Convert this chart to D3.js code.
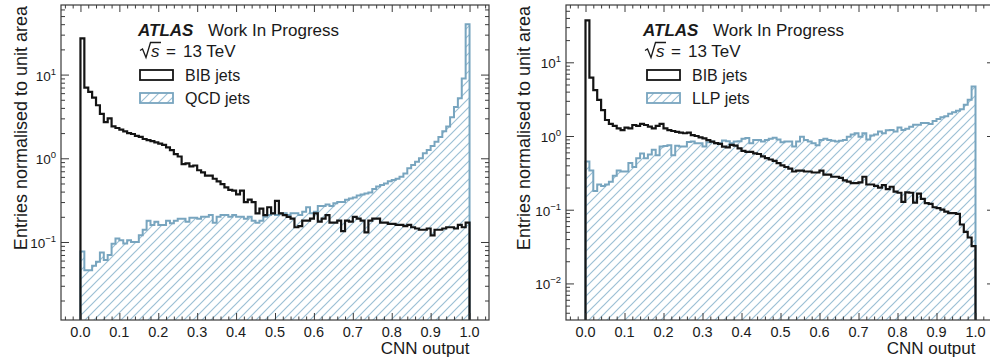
<!DOCTYPE html>
<html>
<head>
<meta charset="utf-8">
<script src="https://cdn.jsdelivr.net/npm/d3@7"></script>
<style>
  body { margin: 0; background: #fff; }
  svg { display: block; font-family: "Liberation Sans", Arial, Helvetica, sans-serif; }
</style>
</head>
<body>
<svg id="chart" width="990" height="358"></svg>
<script>
// 100 bins of width 0.01 over the CNN output
const binEdges = d3.range(0, 101).map(i => i / 100);

// left panel: BIB vs QCD
const leftBIB = [
  27, 7.0, 6.2, 5.3, 4.3, 3.4, 2.7, 3.0, 2.4, 2.3,
  2.2, 2.1, 2.0, 1.95, 1.85, 1.8, 1.7, 1.65, 1.6, 1.55,
  1.5, 1.45, 1.35, 1.25, 1.12, 1.05, 0.85, 0.87, 0.8, 0.82,
  0.72, 0.68, 0.62, 0.62, 0.57, 0.53, 0.49, 0.45, 0.42, 0.41,
  0.37, 0.41, 0.3, 0.32, 0.3, 0.22, 0.25, 0.21, 0.26, 0.22,
  0.31, 0.22, 0.21, 0.2, 0.19, 0.15, 0.155, 0.18, 0.18, 0.19,
  0.22, 0.175, 0.19, 0.21, 0.17, 0.17, 0.18, 0.135, 0.18, 0.175,
  0.2, 0.19, 0.18, 0.13, 0.18, 0.19, 0.19, 0.17, 0.17, 0.165,
  0.165, 0.16, 0.16, 0.155, 0.16, 0.15, 0.145, 0.14, 0.14, 0.145,
  0.12, 0.14, 0.14, 0.145, 0.15, 0.15, 0.145, 0.16, 0.15, 0.17
];
const leftQCD = [
  0.077, 0.046, 0.046, 0.052, 0.058, 0.075, 0.061, 0.07, 0.095, 0.11,
  0.105, 0.096, 0.105, 0.1, 0.1, 0.12, 0.14, 0.18, 0.16, 0.175,
  0.16, 0.16, 0.18, 0.168, 0.18, 0.19, 0.19, 0.175, 0.195, 0.195,
  0.19, 0.2, 0.2, 0.21, 0.17, 0.2, 0.21, 0.21, 0.2, 0.21,
  0.2, 0.2, 0.19, 0.2, 0.18, 0.17, 0.18, 0.2, 0.21, 0.22,
  0.21, 0.22, 0.22, 0.21, 0.22, 0.22, 0.21, 0.23, 0.26, 0.22,
  0.23, 0.27, 0.27, 0.28, 0.27, 0.29, 0.3, 0.3, 0.32, 0.33,
  0.34, 0.36, 0.37, 0.38, 0.39, 0.43, 0.46, 0.48, 0.5, 0.53,
  0.55, 0.57, 0.6, 0.66, 0.76, 0.83, 0.91, 1.0, 1.15, 1.26,
  1.4, 1.58, 1.8, 2.1, 2.4, 3.1, 4.1, 5.2, 9.0, 40
];

// right panel: BIB vs LLP
const rightBIB = [
  37, 6.2, 4.2, 3.1, 2.25, 1.65, 1.46, 1.37, 1.27, 1.2,
  1.3, 1.27, 1.41, 1.37, 1.46, 1.41, 1.34, 1.27, 1.37, 1.46,
  1.27, 1.2, 1.17, 1.14, 1.11, 1.09, 1.11, 1.03, 1.0, 0.96,
  0.93, 0.88, 0.84, 0.8, 0.78, 0.72, 0.7, 0.76, 0.74, 0.68,
  0.63, 0.61, 0.61, 0.58, 0.57, 0.53, 0.5, 0.48, 0.46, 0.43,
  0.4, 0.38, 0.36, 0.33, 0.34, 0.34, 0.33, 0.33, 0.32, 0.32,
  0.34, 0.3, 0.3, 0.28, 0.28, 0.27, 0.25, 0.24, 0.23, 0.23,
  0.235, 0.28, 0.22, 0.22, 0.21, 0.2, 0.215, 0.19, 0.205, 0.176,
  0.17, 0.128, 0.172, 0.17, 0.125, 0.165, 0.14, 0.123, 0.12, 0.108,
  0.105, 0.1, 0.094, 0.09, 0.09, 0.088, 0.063, 0.05, 0.042, 0.032
];
const rightLLP = [
  0.45, 0.34, 0.18, 0.22, 0.21, 0.22, 0.24, 0.29, 0.34, 0.33,
  0.33, 0.43, 0.38, 0.5, 0.58, 0.5, 0.56, 0.65, 0.55, 0.72,
  0.73, 0.75, 0.55, 0.74, 0.72, 0.72, 0.83, 0.84, 0.8, 0.8,
  0.72, 0.82, 0.84, 0.8, 0.8, 0.87, 0.85, 0.8, 0.84, 0.85,
  0.92, 0.94, 0.8, 0.88, 0.88, 0.84, 0.88, 0.92, 0.95, 0.9,
  0.82, 0.84, 0.84, 0.72, 0.84, 0.98, 0.88, 0.84, 0.8, 0.75,
  0.88, 0.92, 0.88, 0.86, 0.84, 0.86, 0.88, 0.98, 1.05, 1.09,
  0.98, 1.09, 0.9, 1.02, 1.05, 1.15, 1.09, 1.2, 1.21, 1.15,
  1.3, 1.21, 1.25, 1.34, 1.42, 1.42, 1.5, 1.5, 1.45, 1.6,
  1.7, 1.8, 1.85, 2.0, 2.1, 2.2, 2.3, 2.65, 3.1, 4.7
];

const xTickValues = [0, 0.1, 0.2, 0.3, 0.4, 0.5, 0.6, 0.7, 0.8, 0.9, 1.0];
const xTickLabels = ["0.0", "0.1", "0.2", "0.3", "0.4", "0.5", "0.6", "0.7", "0.8", "0.9", "1.0"];
const leftYExponents = [-1, 0, 1];
const rightYExponents = [-2, -1, 0, 1];

const BLACK = "#141414";
const BLUE = "#78a5bf";
const HATCH = "#9cc0d5";
const FRAME = "#3a3a3a";
const TEXT = "#1a1a1a";

const svg = d3.select("#chart");
const defs = svg.append("defs");

const hatch = defs.append("pattern")
  .attr("id", "hatch")
  .attr("patternUnits", "userSpaceOnUse")
  .attr("width", 9)
  .attr("height", 9);
hatch.append("path")
  .attr("d", "M-1,1 L1,-1 M0,9 L9,0 M8,10 L10,8")
  .attr("stroke", HATCH)
  .attr("stroke-width", 1.2);

const panels = [
  { id: "l", x0: 61, x1: 489, y0: 5, y1: 320, yDomain: [0.0117, 67.8],
    bib: leftBIB, sig: leftQCD, sigName: "QCD jets", exps: leftYExponents,
    ylabelX: 27, textX: 138, legendX: 140 },
  { id: "r", x0: 566, x1: 995, y0: 5, y1: 320, yDomain: [0.00319, 59.9],
    bib: rightBIB, sig: rightLLP, sigName: "LLP jets", exps: rightYExponents,
    ylabelX: 530, textX: 643, legendX: 647 }
];

const isMajorX = v => Math.abs(Math.round(v * 10) - v * 10) < 1e-6;
const xMinor = d3.range(-2, 53).map(i => i * 0.02).filter(v => !isMajorX(v));

panels.forEach(p => {
  const x = d3.scaleLinear().domain([-0.05, 1.05]).range([p.x0, p.x1]);
  const y = d3.scaleLog().domain(p.yDomain).range([p.y1, p.y0]);
  const g = svg.append("g");

  defs.append("clipPath").attr("id", "clip-" + p.id)
    .append("rect")
    .attr("x", p.x0).attr("y", p.y0)
    .attr("width", p.x1 - p.x0).attr("height", p.y1 - p.y0);

  const plot = g.append("g").attr("clip-path", `url(#clip-${p.id})`);

  // step points: bin low edge with its value, then closing point at x=1
  const stepPts = vals => vals.map((v, i) => [binEdges[i], v]).concat([[1, vals[vals.length - 1]]]);

  const area = d3.area()
    .x(d => x(d[0]))
    .y0(p.y1)
    .y1(d => y(d[1]))
    .curve(d3.curveStepAfter);

  const line = d3.line()
    .x(d => x(d[0]))
    .y(d => (d[1] === null ? p.y1 : y(d[1])))
    .curve(d3.curveStepAfter);

  const outline = vals => [[0, null]].concat(stepPts(vals)).concat([[1, null]]);

  plot.append("path")
    .attr("d", area(stepPts(p.sig)))
    .attr("fill", "url(#hatch)");

  plot.append("path")
    .attr("d", line(outline(p.sig)))
    .attr("fill", "none")
    .attr("stroke", BLUE)
    .attr("stroke-width", 2);

  plot.append("path")
    .attr("d", line(outline(p.bib)))
    .attr("fill", "none")
    .attr("stroke", BLACK)
    .attr("stroke-width", 2.2);

  // axes with inward ticks on all four sides
  const strip = s => s.call(a => a.select(".domain").remove())
    .call(a => a.selectAll("line").attr("stroke", FRAME));

  const yMajor = p.exps.map(e => Math.pow(10, e));
  const yMinor = y.ticks().filter(v => !yMajor.some(m => Math.abs(m - v) / m < 1e-6));

  g.append("g").attr("transform", `translate(0,${p.y1})`)
    .call(d3.axisBottom(x).tickValues(xTickValues).tickSize(-7).tickFormat("")).call(strip);
  g.append("g").attr("transform", `translate(0,${p.y1})`)
    .call(d3.axisBottom(x).tickValues(xMinor).tickSize(-3.5).tickFormat("")).call(strip);
  g.append("g").attr("transform", `translate(0,${p.y0})`)
    .call(d3.axisTop(x).tickValues(xTickValues).tickSize(-7).tickFormat("")).call(strip);
  g.append("g").attr("transform", `translate(0,${p.y0})`)
    .call(d3.axisTop(x).tickValues(xMinor).tickSize(-3.5).tickFormat("")).call(strip);
  g.append("g").attr("transform", `translate(${p.x0},0)`)
    .call(d3.axisLeft(y).tickValues(yMajor).tickSize(-8).tickFormat("")).call(strip);
  g.append("g").attr("transform", `translate(${p.x0},0)`)
    .call(d3.axisLeft(y).tickValues(yMinor).tickSize(-4).tickFormat("")).call(strip);
  g.append("g").attr("transform", `translate(${p.x1},0)`)
    .call(d3.axisRight(y).tickValues(yMajor).tickSize(-8).tickFormat("")).call(strip);
  g.append("g").attr("transform", `translate(${p.x1},0)`)
    .call(d3.axisRight(y).tickValues(yMinor).tickSize(-4).tickFormat("")).call(strip);

  g.append("rect")
    .attr("x", p.x0).attr("y", p.y0)
    .attr("width", p.x1 - p.x0).attr("height", p.y1 - p.y0)
    .attr("fill", "none")
    .attr("stroke", FRAME)
    .attr("stroke-width", 1.2);

  // tick labels
  g.selectAll(".xl").data(xTickValues).enter().append("text")
    .attr("x", d => x(d))
    .attr("y", 337)
    .attr("text-anchor", "middle")
    .attr("font-size", 14.5)
    .attr("fill", TEXT)
    .text((d, i) => xTickLabels[i]);

  p.exps.forEach(e => {
    const t = g.append("text")
      .attr("x", p.x0 - 5)
      .attr("y", y(Math.pow(10, e)) + 6)
      .attr("text-anchor", "end")
      .attr("font-size", 13.5)
      .attr("fill", TEXT);
    t.append("tspan").text("10");
    t.append("tspan").attr("dy", -6).attr("font-size", 9.5).text(e < 0 ? "\u2212" + (-e) : String(e));
  });

  // axis titles
  g.append("text")
    .attr("transform", `translate(${p.ylabelX},6) rotate(-90)`)
    .attr("text-anchor", "end")
    .attr("font-size", 18)
    .attr("fill", TEXT)
    .text("Entries normalised to unit area");

  g.append("text")
    .attr("x", x(1.0))
    .attr("y", 354)
    .attr("text-anchor", "end")
    .attr("font-size", 17)
    .attr("fill", TEXT)
    .text("CNN output");

  // ATLAS label
  const at = g.append("text").attr("x", p.textX).attr("y", 36).attr("font-size", 17).attr("fill", TEXT);
  at.append("tspan").attr("font-weight", "bold").attr("font-style", "italic").text("ATLAS");
  at.append("tspan").attr("x", p.textX + 70).text("Work In Progress");

  // sqrt(s) = 13 TeV, radical drawn as a path
  const tx = p.textX + 2;
  g.append("path")
    .attr("d", `M${tx},50.5 L${tx + 2.5},49 L${tx + 6},57.5 L${tx + 10.5},42.5 L${tx + 21},42.5`)
    .attr("fill", "none")
    .attr("stroke", TEXT)
    .attr("stroke-width", 1.3)
    .attr("stroke-linejoin", "miter");
  const sq = g.append("text").attr("y", 57).attr("font-size", 17).attr("fill", TEXT);
  sq.append("tspan").attr("x", tx + 11).attr("font-style", "italic").text("s");
  sq.append("tspan").attr("x", tx + 26).text("=");
  sq.append("tspan").attr("x", tx + 43).text("13 TeV");

  // legend
  g.append("rect")
    .attr("x", p.legendX).attr("y", 70).attr("width", 33).attr("height", 10)
    .attr("fill", "#fff").attr("stroke", BLACK).attr("stroke-width", 1.8);
  g.append("text").attr("x", p.legendX + 45).attr("y", 81)
    .attr("font-size", 16).attr("fill", TEXT).text("BIB jets");
  g.append("rect")
    .attr("x", p.legendX).attr("y", 93).attr("width", 33).attr("height", 10)
    .attr("fill", "url(#hatch)").attr("stroke", BLUE).attr("stroke-width", 1.8);
  g.append("text").attr("x", p.legendX + 45).attr("y", 104)
    .attr("font-size", 16).attr("fill", TEXT).text(p.sigName);
});
</script>
</body>
</html>
